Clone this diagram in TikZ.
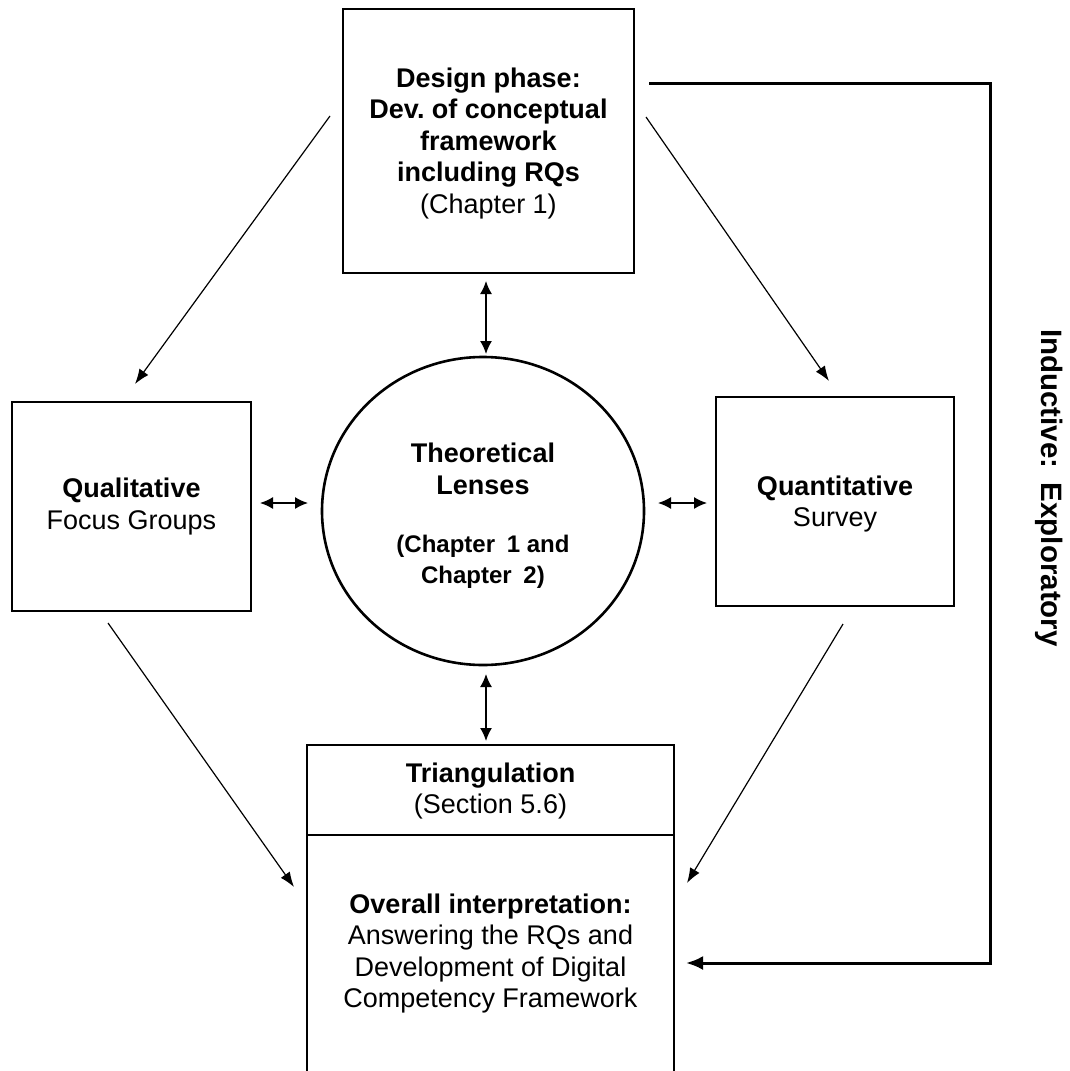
\documentclass[tikz,border=0pt]{standalone}
\usepackage{fontspec}
\setmainfont{Liberation Sans}
\usetikzlibrary{arrows.meta,shapes.geometric}
\frenchspacing

\tikzset{
  txt/.style={align=center, inner sep=0pt, font=\fontsize{27}{31.5}\selectfont},
  box/.style={draw, line width=1.4pt, inner sep=0pt},
  lens/.style={draw, ellipse, line width=2.6pt, inner sep=0pt},
  flow/.style={line width=1.2pt, -{Latex[length=15pt,width=11pt]}},
  twoway/.style={line width=1.5pt, {Latex[length=13pt,width=12pt]}-{Latex[length=13pt,width=12pt]}},
  feedback/.style={line width=3pt, -{Latex[length=17pt,width=14pt]}},
}

\begin{document}
\begin{tikzpicture}[x=1pt,y=-1pt]
  \useasboundingbox (0,0) rectangle (1069,1071);

  % design phase box
  \node[box, minimum width=291pt, minimum height=264pt] (design) at (488.5,141) {};
  \node[txt] (designText) at (488.5,143.5)
    {\textbf{Design phase:}\\\textbf{Dev. of conceptual}\\\textbf{framework}\\\textbf{including RQs}\\(Chapter 1)};

  % qualitative and quantitative strands
  \node[box, minimum width=239pt, minimum height=209pt] (qual) at (131.5,506.5) {};
  \node[txt] (qualText) at (131.5,506.5) {\textbf{Qualitative}\\Focus Groups};
  \node[box, minimum width=238pt, minimum height=209pt] (quant) at (835,501.5) {};
  \node[txt] (quantText) at (835,504) {\textbf{Quantitative}\\Survey};

  % theoretical lenses
  \node[lens, minimum width=322pt, minimum height=308pt] (lens) at (483,511) {};
  \node[txt] (lensTitle) at (483,469) {\textbf{Theoretical}\\\textbf{Lenses}};
  \node[txt, font=\fontsize{24}{31}\selectfont\bfseries] (lensRef) at (483,562)
    {(Chapter\hspace{5pt} 1 and\\Chapter\hspace{5pt} 2)};

  % triangulation and overall interpretation (runs past the lower edge)
  \node[box, minimum width=367pt, minimum height=90pt] (tri) at (490.5,790) {};
  \node[txt] (triText) at (490.5,791) {\textbf{Triangulation}\\(Section 5.6)};
  \node[box, minimum width=367pt, minimum height=260pt] (overall) at (490.5,965) {};
  \node[txt] (overallText) at (490.5,953.5)
    {\textbf{Overall interpretation:}\\Answering the RQs and\\Development of Digital\\Competency Framework};

  % side label
  \node[txt, rotate=-90, font=\fontsize{29.5}{31.5}\selectfont\bfseries] (induct) at (1049,488)
    {Inductive:\hspace{6pt} Exploratory};

  % connector end points
  \coordinate (dL) at (330,116);   \coordinate (qualIn) at (135,384);
  \coordinate (dR) at (646,117);   \coordinate (quantIn) at (829,381);
  \coordinate (qualOut) at (108,623);  \coordinate (ovL) at (294,887);
  \coordinate (quantOut) at (843,624); \coordinate (ovR) at (687,883);
  \coordinate (dB) at (486,281);   \coordinate (lT) at (486,354);
  \coordinate (lB) at (486,674);   \coordinate (tT) at (486,741);
  \coordinate (qA) at (260,503);   \coordinate (qB) at (308,503);
  \coordinate (nA) at (658,503);   \coordinate (nB) at (707,503);
  \coordinate (fbStart) at (649,83);
  \coordinate (fbCorner) at (990,963);
  \coordinate (fbEnd) at (686,963);

  % one-way flows
  \draw[flow] (dL) -- (qualIn);
  \draw[flow] (dR) -- (quantIn);
  \draw[flow] (qualOut) -- (ovL);
  \draw[flow] (quantOut) -- (ovR);

  % two-way links with the lenses
  \draw[twoway] (dB) -- (lT);
  \draw[twoway] (lB) -- (tT);
  \draw[twoway] (qA) -- (qB);
  \draw[twoway] (nA) -- (nB);

  % inductive feedback loop
  \draw[feedback] (fbStart) -| (fbCorner) -- (fbEnd);
\end{tikzpicture}
\end{document}
